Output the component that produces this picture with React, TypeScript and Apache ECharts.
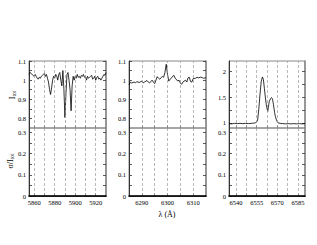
import React, { useEffect, useRef } from "react";
import * as echarts from "echarts";

// Panel 1: Na D / He I D3 region
const wave1 = [5855, 5856, 5857, 5858, 5859, 5860, 5861, 5862, 5863, 5864, 5865, 5866, 5867, 5868, 5869, 5870, 5871, 5872, 5873, 5874, 5875, 5876, 5877, 5878, 5879, 5880, 5881, 5882, 5883, 5884, 5885, 5886, 5887, 5888, 5889, 5890, 5891, 5892, 5893, 5894, 5895, 5896, 5897, 5898, 5899, 5900, 5901, 5902, 5903, 5904, 5905, 5906, 5907, 5908, 5909, 5910, 5911, 5912, 5913, 5914, 5915, 5916, 5917, 5918, 5919, 5920, 5921, 5922, 5923, 5924, 5925, 5926, 5927, 5928, 5929, 5930];
const flux1 = [1.03, 1.04, 1.035, 1.03, 1.025, 1.02, 1.03, 1.02, 1.01, 1.005, 1.015, 1.01, 1.02, 1.025, 1.03, 1.035, 1.02, 1.03, 1.01, 0.99, 0.95, 0.925, 0.96, 1.0, 1.02, 1.01, 1.03, 1.02, 1.0, 1.03, 1.04, 1.0, 0.97, 1.05, 0.95, 0.805, 0.93, 1.03, 1.04, 1.0, 0.95, 0.84, 0.97, 1.02, 1.0, 1.02, 1.01, 1.03, 1.015, 1.02, 1.01, 1.025, 1.02, 1.03, 1.015, 1.02, 1.0, 1.02, 1.01, 1.015, 1.02, 1.025, 1.005, 1.01, 1.02, 1.0, 1.015, 1.02, 1.005, 1.01, 1.0, 1.01, 1.02, 1.03, 1.025, 1.04];

// Panel 2: [O I] 6300 region
const wave2 = [6285, 6285.5, 6286, 6287, 6287.5, 6288, 6289, 6290, 6290.5, 6291, 6292, 6292.5, 6293, 6294, 6294.5, 6295, 6296, 6296.5, 6297, 6298, 6298.5, 6299, 6299.5, 6300, 6300.5, 6301, 6301.5, 6302, 6302.5, 6303, 6304, 6304.5, 6305, 6305.5, 6306, 6307, 6307.5, 6308, 6308.5, 6309, 6309.5, 6310, 6311, 6311.5, 6312, 6313, 6314, 6315];
const flux2 = [0.975, 0.99, 0.985, 0.99, 0.985, 0.992, 0.988, 0.995, 0.985, 0.99, 0.998, 0.99, 0.985, 1.0, 0.99, 0.982, 1.018, 1.01, 1.005, 1.02, 1.015, 1.04, 1.083, 1.03, 0.995, 1.005, 1.01, 1.02, 1.025, 1.01, 0.995, 1.0, 0.985, 0.978, 0.99, 1.0, 0.99, 1.012, 1.015, 0.992, 0.99, 1.008, 1.01, 1.015, 1.012, 1.016, 1.01, 1.012];

// Panel 3: H-alpha region
const wave3 = [6535, 6537, 6539, 6541, 6543, 6545, 6547, 6549, 6551, 6553, 6554, 6555, 6555.7, 6556.5, 6557.4, 6558.3, 6559.2, 6559.9, 6560.6, 6561.3, 6562, 6563, 6563.5, 6564.1, 6565, 6565.8, 6566.5, 6567.2, 6568, 6568.6, 6569.5, 6570.5, 6572, 6574, 6576, 6578, 6580, 6582, 6584, 6586, 6588, 6590];
const flux3 = [0.985, 0.98, 0.99, 0.985, 0.99, 0.985, 0.99, 0.985, 0.99, 0.995, 1.0, 1.015, 1.05, 1.25, 1.54, 1.8, 1.89, 1.84, 1.67, 1.5, 1.35, 1.22, 1.3, 1.41, 1.47, 1.49, 1.46, 1.35, 1.2, 1.12, 1.04, 1.0, 0.99, 0.985, 0.98, 0.985, 0.98, 0.985, 0.98, 0.985, 0.98, 0.985];

const xRanges = [[5855, 5930], [6285, 6315], [6535, 6590]];
const gridTicks = [
  [5860, 5870, 5880, 5890, 5900, 5910, 5920],
  [6290, 6295, 6300, 6305, 6310],
  [6540, 6547.5, 6555, 6562.5, 6570, 6577.5, 6585],
];
const xLabels = [
  [5860, 5880, 5900, 5920],
  [6290, 6300, 6310],
  [6540, 6555, 6570, 6585],
];
const topRanges = [[0.75, 1.1], [0.75, 1.1], [0.9, 2.2]];
const topTicks = [
  [0.8, 0.85, 0.9, 0.95, 1, 1.05, 1.1],
  [0.8, 0.85, 0.9, 0.95, 1, 1.05, 1.1],
  [1, 1.25, 1.5, 1.75, 2],
];
const topLabels = [[0.8, 0.9, 1, 1.1], [0.8, 0.9, 1, 1.1], [1, 1.5, 2]];
const bottomRange = [0, 0.32];
const bottomTicks = [0, 0.05, 0.1, 0.15, 0.2, 0.25, 0.3];
const bottomLabels = [0, 0.1, 0.2, 0.3];

const waves = [wave1, wave2, wave3];
const fluxes = [flux1, flux2, flux3];

const FONT = "Liberation Serif";
const lefts = [29, 129, 229];
const widths = [77, 77, 76];

export default function App() {
  const ref = useRef<HTMLDivElement>(null);
  useEffect(() => {
    if (!ref.current) return;
    const chart = echarts.init(ref.current, null, { renderer: "svg" });
    const grid: any[] = [];
    const xAxis: any[] = [];
    const yAxis: any[] = [];
    const series: any[] = [];
    const labelStyle = { fontFamily: FONT, fontSize: 6.5, color: "#000", formatter: (v: number) => String(v) };

    for (let i = 0; i < 3; i++) {
      const gTop = 2 * i;
      const gBot = 2 * i + 1;
      grid.push({ left: lefts[i], top: 61, width: widths[i], height: 67, show: true, borderColor: "#888", borderWidth: 1, backgroundColor: "transparent" });
      grid.push({ left: lefts[i], top: 128, width: widths[i], height: 68, show: true, borderColor: "#888", borderWidth: 1, backgroundColor: "transparent" });

      for (const g of [gTop, gBot]) {
        const isBot = g === gBot;
        xAxis.push({
          type: "value",
          gridIndex: g,
          min: xRanges[i][0],
          max: xRanges[i][1],
          position: "bottom",
          axisLine: { show: isBot, lineStyle: { color: "#555", width: 1 } },
          axisTick: { show: true, inside: true, length: 2.5, customValues: gridTicks[i], lineStyle: { color: "#333", width: 0.8 } },
          axisLabel: { show: isBot, customValues: xLabels[i], margin: 3, ...labelStyle },
          splitLine: { show: false },
        });
        const yr = isBot ? bottomRange : topRanges[i];
        yAxis.push({
          type: "value",
          gridIndex: g,
          min: yr[0],
          max: yr[1],
          position: "left",
          axisLine: { show: true, lineStyle: { color: "#333", width: 1 } },
          axisTick: { show: true, inside: true, length: 3, customValues: isBot ? bottomTicks : topTicks[i], lineStyle: { color: "#333", width: 0.8 } },
          axisLabel: { show: true, customValues: isBot ? bottomLabels : topLabels[i], margin: 3, ...labelStyle },
          splitLine: { show: false },
        });
        yAxis.push({
          type: "value",
          gridIndex: g,
          min: yr[0],
          max: yr[1],
          position: "right",
          axisLine: { show: true, lineStyle: { color: "#888", width: 1.5 } },
          axisTick: { show: true, inside: true, length: 3, customValues: isBot ? bottomTicks : topTicks[i], lineStyle: { color: "#333", width: 0.8 } },
          axisLabel: { show: false },
          splitLine: { show: false },
        });
      }
    }
    // divider lines (black) at top of bottom panels
    for (let i = 0; i < 3; i++) {
      xAxis.push({
        type: "value",
        gridIndex: 2 * i + 1,
        min: xRanges[i][0],
        max: xRanges[i][1],
        position: "top",
        z: 10,
        axisLine: { show: true, lineStyle: { color: "#000", width: 1.5 } },
        axisTick: { show: false },
        axisLabel: { show: false },
        splitLine: { show: false },
      });
    }

    const markLineFor = (i: number) => ({
      silent: true,
      symbol: ["none", "none"],
      label: { show: false },
      lineStyle: { color: "#999", width: 0.7, type: [3, 2] },
      data: gridTicks[i].map((v) => ({ xAxis: v })),
    });

    for (let i = 0; i < 3; i++) {
      series.push({
        type: "line",
        xAxisIndex: 2 * i,
        yAxisIndex: 4 * i,
        data: waves[i].map((w, k) => [w, fluxes[i][k]]),
        showSymbol: false,
        symbol: "none",
        lineStyle: { color: "#000", width: 0.8 },
        markLine: markLineFor(i),
        z: 3,
      });
      series.push({
        type: "line",
        xAxisIndex: 2 * i + 1,
        yAxisIndex: 4 * i + 2,
        data: [],
        showSymbol: false,
        symbol: "none",
        lineStyle: { color: "#000", width: 0.8 },
        markLine: markLineFor(i),
      });
    }

    chart.setOption({
      animation: false,
      backgroundColor: "#fff",
      grid,
      xAxis,
      yAxis,
      series,
      graphic: [
        {
          type: "text",
          x: 12,
          y: 95,
          rotation: Math.PI / 2,
          style: {
            text: "{a|I}{s|tot}",
            align: "center",
            verticalAlign: "middle",
            fill: "#000",
            rich: {
              a: { fontFamily: FONT, fontSize: 8, fill: "#000" },
              s: { fontFamily: FONT, fontSize: 5.5, fill: "#000", padding: [4, 0, 0, 0] },
            },
          },
        },
        {
          type: "text",
          x: 10,
          y: 161,
          rotation: Math.PI / 2,
          style: {
            text: "{a|σ/I}{s|tot}",
            align: "center",
            verticalAlign: "middle",
            fill: "#000",
            rich: {
              a: { fontFamily: FONT, fontSize: 8, fill: "#000" },
              s: { fontFamily: FONT, fontSize: 5.5, fill: "#000", padding: [4, 0, 0, 0] },
            },
          },
        },
        {
          type: "text",
          x: 167,
          y: 214,
          style: {
            text: "λ (Å)",
            align: "center",
            verticalAlign: "middle",
            fontFamily: FONT,
            fontSize: 8,
            fill: "#000",
          },
        },
      ],
    });
    return () => chart.dispose();
  }, []);
  return (
    <div
      ref={ref}
      style={{ position: "fixed", left: 0, top: 0, width: 317, height: 245, background: "#fff" }}
    />
  );
}
